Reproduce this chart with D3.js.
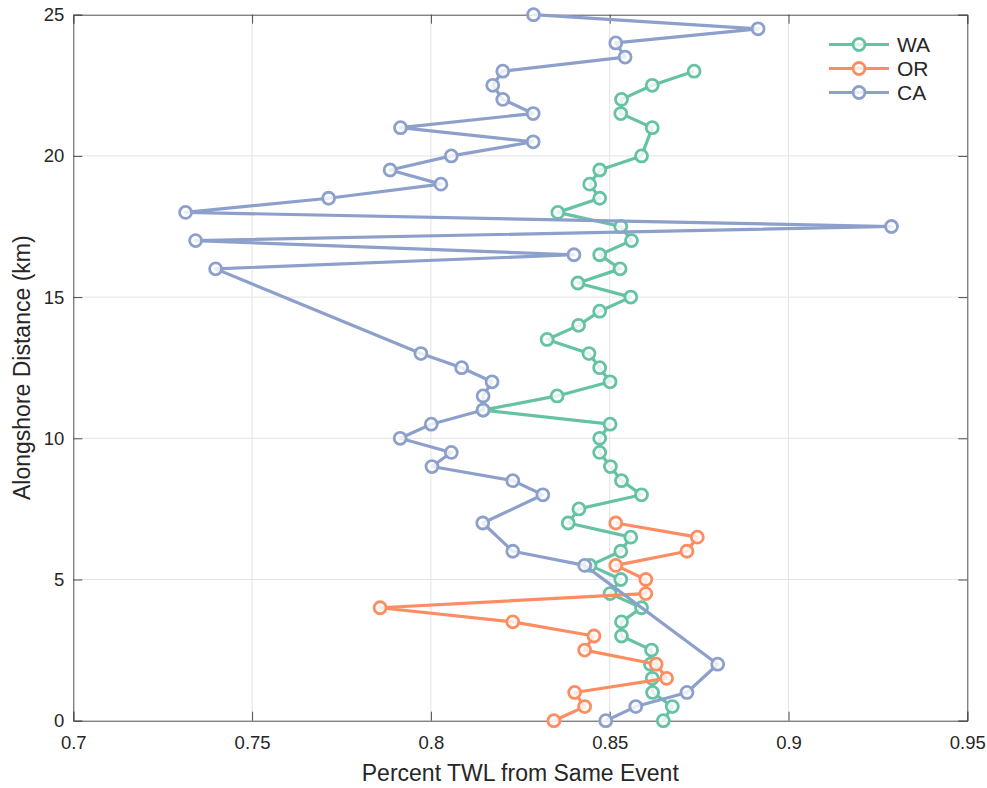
<!DOCTYPE html>
<html>
<head>
<meta charset="utf-8">
<script src="https://cdn.jsdelivr.net/npm/d3@7"></script>
<style>
  html, body { margin: 0; padding: 0; background: #fff; }
  svg { display: block; font-family: "Liberation Sans", Arial, Helvetica, sans-serif; }
</style>
</head>
<body>
<svg id="chart" width="987" height="788"></svg>
<script>
// ---- Data ----
const seriesNames = ["WA", "OR", "CA"];
const seriesColors = ["#66c2a5", "#fc8d62", "#8da0cb"];

const distWA = [23, 22.5, 22, 21.5, 21, 20, 19.5, 19, 18.5, 18, 17.5, 17, 16.5, 16, 15.5, 15, 14.5, 14, 13.5, 13, 12.5, 12, 11.5, 11, 10.5, 10, 9.5, 9, 8.5, 8, 7.5, 7, 6.5, 6, 5.5, 5, 4.5, 4, 3.5, 3, 2.5, 2, 1.5, 1, 0.5, 0];
const valWA = [0.8736, 0.8619, 0.8533, 0.8531, 0.8619, 0.8589, 0.8472, 0.8444, 0.8472, 0.8355, 0.8531, 0.8561, 0.8472, 0.8529, 0.8411, 0.8559, 0.8472, 0.8413, 0.8325, 0.8442, 0.8472, 0.8501, 0.8353, 0.8146, 0.8501, 0.8472, 0.8472, 0.8502, 0.8533, 0.8589, 0.8414, 0.8384, 0.8559, 0.8531, 0.8445, 0.8531, 0.8501, 0.8589, 0.8533, 0.8533, 0.8617, 0.8614, 0.8619, 0.8620, 0.8675, 0.8650];

const distOR = [7, 6.5, 6, 5.5, 5, 4.5, 4, 3.5, 3, 2.5, 2, 1.5, 1, 0.5, 0];
const valOR = [0.8517, 0.8745, 0.8716, 0.8517, 0.8601, 0.8601, 0.7858, 0.8229, 0.8456, 0.8430, 0.8630, 0.8659, 0.8402, 0.8430, 0.8344];

const distCA = [25, 24.5, 24, 23.5, 23, 22.5, 22, 21.5, 21, 20.5, 20, 19.5, 19, 18.5, 18, 17.5, 17, 16.5, 16, 13, 12.5, 12, 11.5, 11, 10.5, 10, 9.5, 9, 8.5, 8, 7, 6, 5.5, 2, 1, 0.5, 0];
const valCA = [0.8287, 0.8915, 0.8517, 0.8543, 0.8201, 0.8173, 0.8201, 0.8286, 0.7915, 0.8286, 0.8057, 0.7886, 0.8028, 0.7714, 0.7314, 0.9288, 0.7342, 0.8400, 0.7398, 0.7972, 0.8086, 0.8171, 0.8146, 0.8146, 0.8001, 0.7914, 0.8057, 0.8003, 0.8229, 0.8313, 0.8145, 0.8229, 0.8430, 0.8802, 0.8716, 0.8573, 0.8489];

const xTicks = [0.7, 0.75, 0.8, 0.85, 0.9, 0.95];
const xTickLabels = ["0.7", "0.75", "0.8", "0.85", "0.9", "0.95"];
const yTicks = [0, 5, 10, 15, 20, 25];
const yTickLabels = ["0", "5", "10", "15", "20", "25"];
const xLabel = "Percent TWL from Same Event";
const yLabel = "Alongshore Distance (km)";

const allSeries = [
  { name: seriesNames[0], color: seriesColors[0], dist: distWA, val: valWA },
  { name: seriesNames[1], color: seriesColors[1], dist: distOR, val: valOR },
  { name: seriesNames[2], color: seriesColors[2], dist: distCA, val: valCA }
];

// ---- Layout ----
const pLeft = 73.3, pRight = 967.3, pTop = 14.7, pBottom = 720.7;
const svg = d3.select("#chart");
const x = d3.scaleLinear().domain([0.7, 0.95]).range([pLeft, pRight]);
const y = d3.scaleLinear().domain([0, 25]).range([pBottom, pTop]);

const textColor = "#262626";
const axisColor = "#4d4d4d";

// grid
const grid = svg.append("g");
grid.selectAll("line.gx").data(xTicks.slice(1, -1)).join("line")
  .attr("x1", d => x(d)).attr("x2", d => x(d))
  .attr("y1", pTop).attr("y2", pBottom)
  .attr("stroke", "#e3e3e3").attr("stroke-width", 1);
grid.selectAll("line.gy").data(yTicks.slice(1, -1)).join("line")
  .attr("y1", d => y(d)).attr("y2", d => y(d))
  .attr("x1", pLeft).attr("x2", pRight)
  .attr("stroke", "#e3e3e3").attr("stroke-width", 1);

// axes (ticks inside)
const tickLen = 9;
const xAxisB = d3.axisBottom(x).tickValues(xTicks).tickSize(-tickLen).tickPadding(15)
  .tickFormat((d, i) => xTickLabels[i]);
const xAxisT = d3.axisTop(x).tickValues(xTicks).tickSize(-tickLen).tickFormat("");
const yAxisL = d3.axisLeft(y).tickValues(yTicks).tickSize(-tickLen).tickPadding(9)
  .tickFormat((d, i) => yTickLabels[i]);
const yAxisR = d3.axisRight(y).tickValues(yTicks).tickSize(-tickLen).tickFormat("");

function styleAxis(g) {
  g.select(".domain").attr("stroke", axisColor).attr("stroke-width", 1);
  g.selectAll(".tick line").attr("stroke", axisColor).attr("stroke-width", 1);
  g.selectAll(".tick text").attr("fill", textColor).attr("font-size", 18.5)
    .attr("font-family", "'Liberation Sans', Arial, sans-serif");
}
svg.append("g").attr("transform", `translate(0,${pBottom})`).call(xAxisB).call(styleAxis);
svg.append("g").attr("transform", `translate(0,${pTop})`).call(xAxisT).call(styleAxis);
svg.append("g").attr("transform", `translate(${pLeft},0)`).call(yAxisL).call(styleAxis);
svg.append("g").attr("transform", `translate(${pRight},0)`).call(yAxisR).call(styleAxis);

// series
const line = d3.line().x(d => x(d.v)).y(d => y(d.d));
const r = 6;
allSeries.forEach(s => {
  const pts = s.dist.map((d, i) => ({ d: d, v: s.val[i] }));
  const g = svg.append("g");
  g.append("path").datum(pts).attr("d", line)
    .attr("fill", "none").attr("stroke", s.color).attr("stroke-width", 3.2)
    .attr("stroke-linejoin", "round");
  g.selectAll("circle").data(pts).join("circle")
    .attr("cx", d => x(d.v)).attr("cy", d => y(d.d)).attr("r", r)
    .attr("fill", "#ffffff").attr("fill-opacity", 0.8)
    .attr("stroke", s.color).attr("stroke-width", 2.8);
});

// legend
const legend = svg.append("g");
const legRows = [44.5, 68.5, 92.5];
allSeries.forEach((s, i) => {
  const ly = legRows[i];
  legend.append("line").attr("x1", 829).attr("x2", 889).attr("y1", ly).attr("y2", ly)
    .attr("stroke", s.color).attr("stroke-width", 3.2);
  legend.append("circle").attr("cx", 859).attr("cy", ly).attr("r", r)
    .attr("fill", "#ffffff").attr("fill-opacity", 0.8)
    .attr("stroke", s.color).attr("stroke-width", 2.8);
  legend.append("text").attr("x", 897).attr("y", ly).attr("dy", "0.36em")
    .attr("font-size", 21).attr("fill", textColor).text(s.name);
});

// axis labels
svg.append("text").attr("x", (pLeft + pRight) / 2).attr("y", 781)
  .attr("text-anchor", "middle").attr("font-size", 23).attr("fill", textColor).text(xLabel);
svg.append("text").attr("transform", `translate(30,${(pTop + pBottom) / 2}) rotate(-90)`)
  .attr("text-anchor", "middle").attr("font-size", 23).attr("fill", textColor).text(yLabel);
</script>
</body>
</html>
